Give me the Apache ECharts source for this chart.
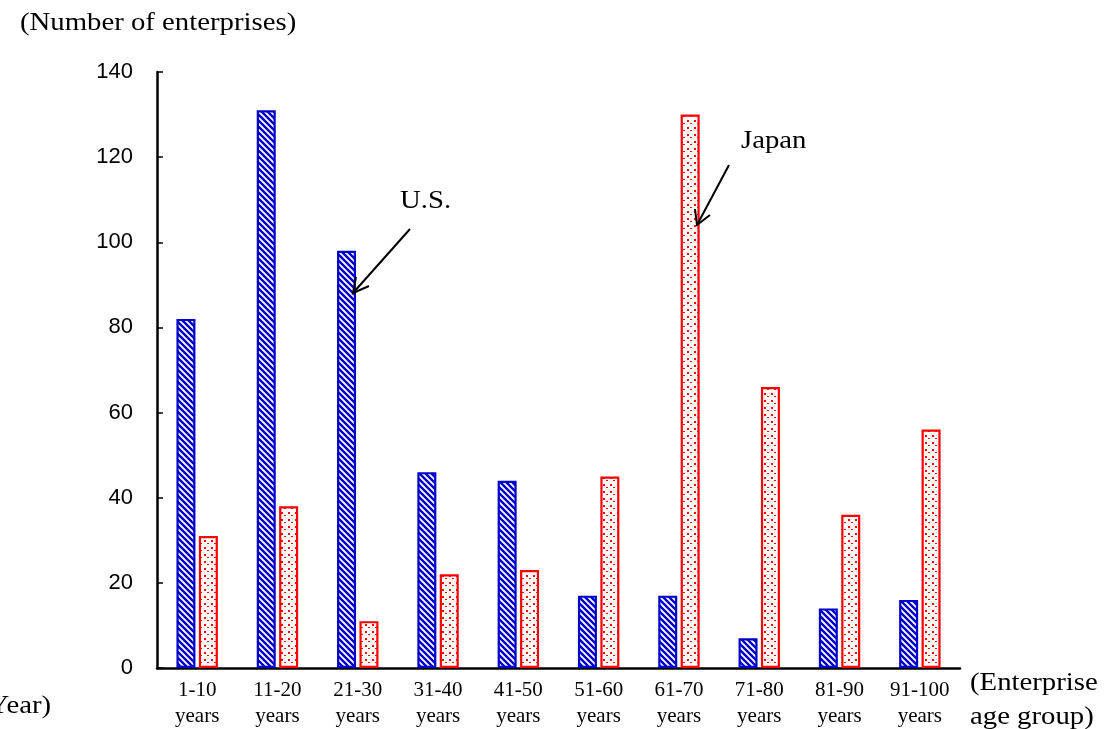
<!DOCTYPE html>
<html><head><meta charset="utf-8">
<script src="https://cdn.jsdelivr.net/npm/echarts@6/dist/echarts.min.js"></script>
<style>html,body{margin:0;padding:0;background:#fff}#c{width:1105px;height:729px}</style>
</head><body><div id="c"></div>
<script>
const categories = ['1-10\nyears','11-20\nyears','21-30\nyears','31-40\nyears','41-50\nyears','51-60\nyears','61-70\nyears','71-80\nyears','81-90\nyears','91-100\nyears'];
const usValues = [82,131,98,46,44,17,17,7,14,16];
const japanValues = [31,38,11,22,23,45,130,66,36,56];
const yTicks = [0,20,40,60,80,100,120,140];

function stripePattern(){
  const c = document.createElement('canvas'); c.width = 6; c.height = 6;
  const g = c.getContext('2d');
  g.fillStyle = '#fff'; g.fillRect(0,0,6,6);
  g.strokeStyle = '#0000cc'; g.lineWidth = 2.4;
  g.beginPath();
  g.moveTo(-1,-1); g.lineTo(7,7);
  g.moveTo(-4,2); g.lineTo(4,10);
  g.moveTo(2,-4); g.lineTo(10,4);
  g.stroke();
  return c;
}
function dotPattern(){
  const c = document.createElement('canvas'); c.width = 7; c.height = 7;
  const g = c.getContext('2d');
  g.fillStyle = '#fff'; g.fillRect(0,0,7,7);
  g.fillStyle = '#ff0000';
  g.fillRect(1,1,2,2); g.fillRect(4,4,2,1);
  return c;
}

const chart = echarts.init(document.getElementById('c'));
const serif = '"Liberation Serif","Times New Roman",serif';
const sans = '"Liberation Sans",Arial,sans-serif';
chart.setOption({
  animation:false,
  grid:{left:157,top:72,right:145,bottom:61,containLabel:false,outerBoundsMode:'none'},
  xAxis:{type:'category',data:categories,
    axisLine:{lineStyle:{color:'#000',width:2.5}},
    axisTick:{show:false},
    axisLabel:{color:'#000',fontFamily:serif,fontSize:21,lineHeight:26,margin:9,interval:0}},
  yAxis:{type:'value',min:0,max:140,interval:20,
    axisLine:{show:true,lineStyle:{color:'#000',width:2.5}},
    axisTick:{show:true,inside:true,length:6,lineStyle:{color:'#000',width:1.5}},
    splitLine:{show:false},
    axisLabel:{color:'#000',fontFamily:sans,fontSize:22,margin:24,
      formatter:v=>yTicks.includes(v)?String(v):''}},
  series:[
    {name:'U.S.',type:'bar',data:usValues,barWidth:19,barGap:'18%',
      itemStyle:{color:{image:stripePattern(),repeat:'repeat'},borderColor:'#0000cc',borderWidth:2.2}},
    {name:'Japan',type:'bar',data:japanValues,barWidth:19,
      itemStyle:{color:{image:dotPattern(),repeat:'repeat'},borderColor:'#ff0000',borderWidth:2.2}}
  ],
  graphic:[
    {type:'text',x:20,y:11,z:100,scaleX:1.15,style:{text:'(Number of enterprises)',font:'25px '+serif,fill:'#000'}},
    {type:'text',x:970,y:666,z:100,scaleX:1.15,style:{text:'(Enterprise\nage group)',font:'25px '+serif,fill:'#000',lineHeight:34}},
    {type:'text',x:-21,y:694,z:100,scaleX:1.15,style:{text:'(Year)',font:'25px '+serif,fill:'#000'}},
    {type:'text',x:400,y:189,z:100,scaleX:1.15,style:{text:'U.S.',font:'25px '+serif,fill:'#000'}},
    {type:'text',x:741,y:129,z:100,scaleX:1.15,style:{text:'Japan',font:'25px '+serif,fill:'#000'}},
    {type:'line',z:100,shape:{x1:410,y1:229,x2:353,y2:293},style:{stroke:'#000',lineWidth:2}},
    {type:'polyline',z:100,shape:{points:[[356,277],[353,293],[369,286]]},style:{stroke:'#000',lineWidth:2,fill:null}},
    {type:'line',z:100,shape:{x1:729,y1:165,x2:697,y2:225},style:{stroke:'#000',lineWidth:2}},
    {type:'polyline',z:100,shape:{points:[[695,209],[697,225],[710,215]]},style:{stroke:'#000',lineWidth:2,fill:null}}
  ]
});
</script></body></html>
